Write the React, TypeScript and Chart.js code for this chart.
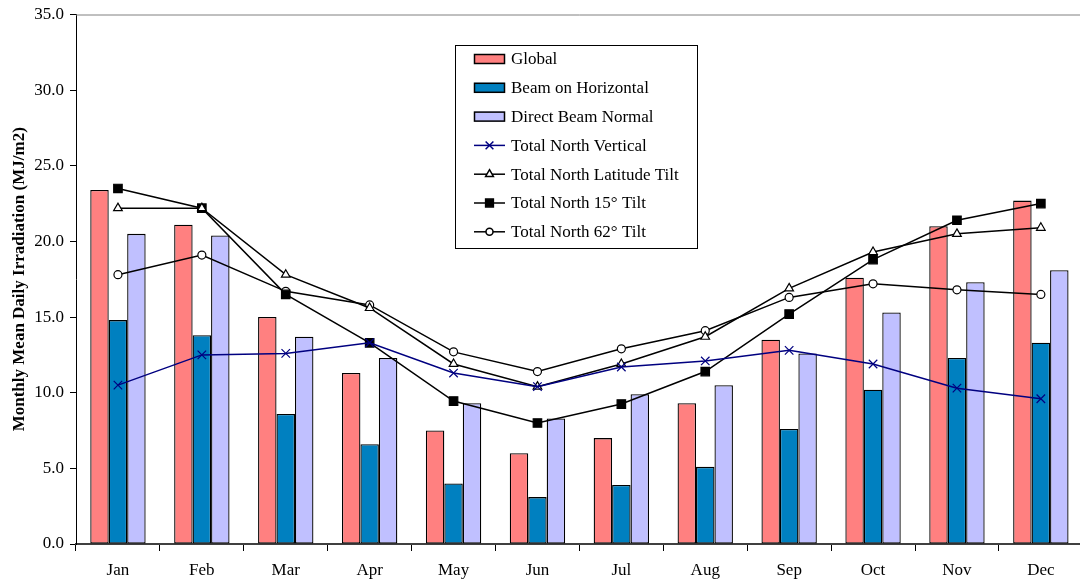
import React, { useEffect, useRef } from "react";
import { Chart, registerables } from "chart.js";
import { drawPoint } from "chart.js/helpers";

Chart.register(...registerables);

// Monthly irradiation data (MJ/m2 per day)
const months = ["Jan", "Feb", "Mar", "Apr", "May", "Jun", "Jul", "Aug", "Sep", "Oct", "Nov", "Dec"];
const globalIrr = [23.4, 21.1, 15.0, 11.3, 7.5, 6.0, 7.0, 9.3, 13.5, 17.6, 21.0, 22.7];
const beamHorizontal = [14.8, 13.8, 8.6, 6.6, 4.0, 3.1, 3.9, 5.1, 7.6, 10.2, 12.3, 13.3];
const directBeamNormal = [20.5, 20.4, 13.7, 12.3, 9.3, 8.3, 9.9, 10.5, 12.6, 15.3, 17.3, 18.1];
const northVertical = [10.5, 12.5, 12.6, 13.3, 11.3, 10.4, 11.7, 12.1, 12.8, 11.9, 10.3, 9.6];
const northLatitudeTilt = [22.2, 22.2, 17.8, 15.6, 11.9, 10.4, 11.9, 13.7, 16.9, 19.3, 20.5, 20.9];
const north15Tilt = [23.5, 22.2, 16.5, 13.3, 9.45, 8.0, 9.25, 11.4, 15.2, 18.8, 21.4, 22.5];
const north62Tilt = [17.8, 19.1, 16.7, 15.8, 12.7, 11.4, 12.9, 14.1, 16.3, 17.2, 16.8, 16.5];

const FONT = "'Liberation Serif', 'Times New Roman', serif";
const FONT_SIZE = 17;

// Frame line along the top of the plot area
const topBorder = {
  id: "topBorder",
  afterDraw(chart: any) {
    const { ctx, chartArea } = chart;
    ctx.save();
    ctx.strokeStyle = "#808080";
    ctx.lineWidth = 1;
    ctx.beginPath();
    ctx.moveTo(chartArea.left, chartArea.top + 0.5);
    ctx.lineTo(chartArea.right, chartArea.top + 0.5);
    ctx.stroke();
    ctx.restore();
  },
};

// Boxed legend inside the plot area
const boxLegend = {
  id: "boxLegend",
  afterDraw(chart: any) {
    const ctx = chart.ctx;
    const x0 = 455, y0 = 45, w = 242, h = 203;
    ctx.save();
    ctx.fillStyle = "#fff";
    ctx.fillRect(x0, y0, w, h);
    ctx.strokeStyle = "#000";
    ctx.lineWidth = 1;
    ctx.strokeRect(x0 + 0.5, y0 + 0.5, w, h);
    ctx.font = `${FONT_SIZE}px ${FONT}`;
    ctx.textBaseline = "middle";
    ctx.textAlign = "left";
    chart.data.datasets.forEach((ds: any, i: number) => {
      const y = 59 + i * 28.8;
      const sx = 474, sw = 31;
      if (ds.type === "bar") {
        ctx.fillStyle = ds.backgroundColor;
        ctx.fillRect(sx, y - 5, sw, 10);
        ctx.strokeStyle = "#000";
        ctx.lineWidth = 1.5;
        ctx.strokeRect(sx + 0.5, y - 4.5, sw - 1, 9);
      } else {
        ctx.strokeStyle = ds.borderColor;
        ctx.lineWidth = 1.5;
        ctx.beginPath();
        ctx.moveTo(sx, y);
        ctx.lineTo(sx + sw, y);
        ctx.stroke();
        ctx.fillStyle = ds.pointBackgroundColor;
        ctx.strokeStyle = ds.pointBorderColor;
        drawPoint(ctx, { pointStyle: ds.pointStyle, radius: ds.pointRadius - 0.5, rotation: 0, borderWidth: 1.2 } as any, sx + sw / 2, y);
      }
      ctx.fillStyle = "#000";
      ctx.fillText(ds.label, 511, y + 1);
    });
    ctx.restore();
  },
};

export default function App() {
  const canvasRef = useRef<HTMLCanvasElement | null>(null);

  useEffect(() => {
    if (!canvasRef.current) return;
    Chart.defaults.font.family = FONT;
    const lineBase = {
      type: "line" as const,
      borderWidth: 1.5,
      tension: 0,
      order: 0,
      pointBorderWidth: 1.2,
    };
    const barBase = {
      type: "bar" as const,
      borderColor: "#000",
      borderWidth: 1.3,
      borderSkipped: false,
      order: 1,
    };
    const chart = new Chart(canvasRef.current, {
      type: "bar",
      data: {
        labels: months,
        datasets: [
          { ...barBase, label: "Global", data: globalIrr, backgroundColor: "#FF8080" },
          { ...barBase, label: "Beam on Horizontal", data: beamHorizontal, backgroundColor: "#0080C0" },
          { ...barBase, label: "Direct Beam Normal", data: directBeamNormal, backgroundColor: "#C0C0FF" },
          { ...lineBase, label: "Total North Vertical", data: northVertical, borderColor: "#000080", pointStyle: "crossRot", pointRadius: 6, pointBorderColor: "#000080", pointBackgroundColor: "#000080" },
          { ...lineBase, label: "Total North Latitude Tilt", data: northLatitudeTilt, borderColor: "#000", pointStyle: "triangle", pointRadius: 5, pointBorderColor: "#000", pointBackgroundColor: "#fff" },
          { ...lineBase, label: "Total North 15° Tilt", data: north15Tilt, borderColor: "#000", pointStyle: "rect", pointRadius: 6, pointBorderColor: "#000", pointBackgroundColor: "#000" },
          { ...lineBase, label: "Total North 62° Tilt", data: north62Tilt, borderColor: "#000", pointStyle: "circle", pointRadius: 4, pointBorderColor: "#000", pointBackgroundColor: "#fff" },
        ] as any,
      },
      options: {
        responsive: false,
        animation: false,
        devicePixelRatio: 1,
        layout: { padding: { top: 14, left: 0, right: 0, bottom: 0 } },
        datasets: { bar: { categoryPercentage: 0.66, barPercentage: 1.0 } },
        plugins: { legend: { display: false }, tooltip: { enabled: false } },
        scales: {
          x: {
            offset: true,
            grid: { display: true, drawOnChartArea: false, drawTicks: true, tickLength: 7, color: "#000", offset: true },
            border: { display: true, color: "#404040", width: 2 },
            ticks: { color: "#000", font: { size: FONT_SIZE, family: FONT }, padding: 9, maxRotation: 0 },
            afterFit: (scale: any) => { scale.height = 37; },
          },
          y: {
            min: 0,
            max: 35,
            ticks: { stepSize: 5, color: "#000", font: { size: FONT_SIZE, family: FONT, lineHeight: 1 }, padding: 6, callback: (v: any) => Number(v).toFixed(1) },
            grid: { display: true, drawOnChartArea: false, drawTicks: true, tickLength: 6, color: "#000" },
            border: { display: true, color: "#000", width: 1 },
            title: { display: true, text: "Monthly Mean Daily Irradiation (MJ/m2)", color: "#000", font: { size: FONT_SIZE, weight: "bold", family: FONT }, padding: { top: 9, bottom: 0 } },
            afterFit: (scale: any) => { scale.width = 76; },
          },
        },
      },
      plugins: [topBorder, boxLegend],
    });
    return () => chart.destroy();
  }, []);

  return (
    <div style={{ position: "fixed", left: 0, top: 0, width: 1080, height: 581, overflow: "hidden", background: "#fff" }}>
      <canvas ref={canvasRef} width={1090} height={581} style={{ display: "block" }} />
    </div>
  );
}
